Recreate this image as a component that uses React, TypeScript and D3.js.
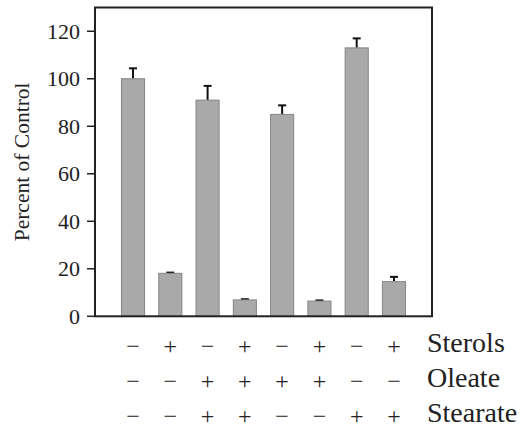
import React from 'react';
import * as d3 from 'd3';

// one bar per treatment combination
const groups = ['g1', 'g2', 'g3', 'g4', 'g5', 'g6', 'g7', 'g8'];
const percent = [100, 18.1, 91, 6.9, 85, 6.4, 113, 14.6];
const errors = [4.4, 0.3, 6, 0.3, 3.8, 0.3, 4, 2];
const yTicks = [0, 20, 40, 60, 80, 100, 120];

// treatment table under the bars
const rowNames = ['Sterols', 'Oleate', 'Stearate'];
const sterols = ['−', '+', '−', '+', '−', '+', '−', '+'];
const oleate = ['−', '−', '+', '+', '+', '+', '−', '−'];
const stearate = ['−', '−', '+', '+', '−', '−', '+', '+'];
const rows = [sterols, oleate, stearate];

const width = 521;
const height = 428;
const left = 95;
const right = 432;
const top = 7.5;
const bottom = 316.3;

const font = '"Liberation Serif", "Times New Roman", serif';

const x = d3
  .scaleBand()
  .domain(groups)
  .range([left, right])
  .paddingInner(0.38)
  .paddingOuter(0.71);

const y = d3.scaleLinear().domain([0, 130]).range([bottom, top]);

const rowY = d3.scalePoint().domain(rowNames).range([346.5, 416.5]);

export default function App() {
  return (
    <svg
      width={width}
      height={height}
      style={{ position: 'absolute', left: 0, top: 0, background: '#fff' }}
    >
      {groups.map((g, i) => {
        const cx = x(g) + x.bandwidth() / 2;
        return (
          <g key={g}>
            <line x1={cx} x2={cx} y1={y(percent[i])} y2={y(percent[i] + errors[i])} stroke="#111" strokeWidth={2} />
            <line x1={cx - 4} x2={cx + 4} y1={y(percent[i] + errors[i])} y2={y(percent[i] + errors[i])} stroke="#111" strokeWidth={2} />
            <rect
              x={x(g)}
              y={y(percent[i])}
              width={x.bandwidth()}
              height={bottom - y(percent[i])}
              fill="#a9a9a9"
              stroke="#858585"
              strokeWidth={1}
            />
          </g>
        );
      })}

      <rect x={left} y={top} width={right - left} height={bottom - top} fill="none" stroke="#222" strokeWidth={2} />

      {yTicks.map(t => (
        <g key={t}>
          <line x1={left - 8} x2={left} y1={y(t)} y2={y(t)} stroke="#222" strokeWidth={1.5} />
          <text
            x={left - 15}
            y={y(t)}
            dy="0.35em"
            textAnchor="end"
            fontFamily={font}
            fontSize={22}
            fill="#222"
          >
            {t}
          </text>
        </g>
      ))}

      <text
        transform={`translate(29, ${(top + bottom) / 2}) rotate(-90)`}
        textAnchor="middle"
        fontFamily={font}
        fontSize={21.5}
        fill="#222"
      >
        Percent of Control
      </text>

      {rowNames.map((name, r) => (
        <g key={name}>
          {rows[r].map((s, i) => (
            <text
              key={i}
              x={x(groups[i]) + x.bandwidth() / 2}
              y={rowY(name)}
              dy="0.33em"
              textAnchor="middle"
              fontFamily={font}
              fontSize={24}
              fill="#222"
            >
              {s}
            </text>
          ))}
          <text x={427} y={rowY(name) + 5} fontFamily={font} fontSize={28} fill="#222">
            {name}
          </text>
        </g>
      ))}
    </svg>
  );
}
